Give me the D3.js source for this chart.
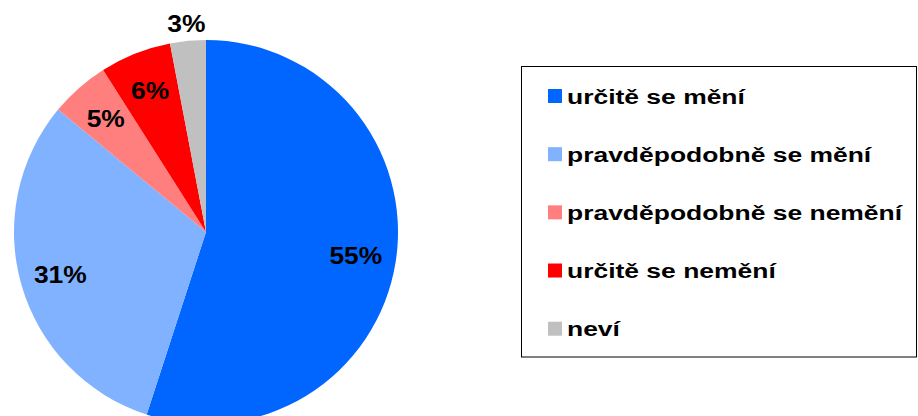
<!DOCTYPE html>
<html>
<head>
<meta charset="utf-8">
<script src="https://cdn.jsdelivr.net/npm/d3@7"></script>
<style>
  body { margin: 0; background: #fff; }
  svg text { font-family: "Liberation Sans", Arial, sans-serif; font-weight: bold; fill: #000; }
</style>
</head>
<body>
<div id="chart"></div>
<script>
// data
const categories = ["určitě se mění", "pravděpodobně se mění", "pravděpodobně se nemění", "určitě se nemění", "neví"];
const shares = [55, 31, 5, 6, 3];
const labels = ["55%", "31%", "5%", "6%", "3%"];
const colors = ["#0066ff", "#80b2ff", "#ff7f7f", "#ff0000", "#c0c0c0"];

const width = 918, height = 416;

const svg = d3.select("#chart").append("svg")
    .attr("width", width)
    .attr("height", height);

// pie
const radius = 192;
const pieG = svg.append("g")
    .attr("transform", "translate(206,232)");

const pie = d3.pie().sort(null).value(d => d)(shares);

const arc = d3.arc().innerRadius(0).outerRadius(radius);

pieG.selectAll("path.slice")
    .data(pie)
    .enter().append("path")
    .attr("class", "slice")
    .attr("d", arc)
    .attr("fill", (d, i) => colors[i]);

// labels inside, small last one outside
const inArc = d3.arc().innerRadius(radius * 0.79).outerRadius(radius * 0.79);
const outArc = d3.arc().innerRadius(radius * 1.09).outerRadius(radius * 1.09);

pieG.selectAll("text.lbl")
    .data(pie)
    .enter().append("text")
    .attr("class", "lbl")
    .attr("transform", (d, i) => {
        let c = (i === 4 ? outArc : inArc).centroid(d);
        return "translate(" + c[0] + "," + (c[1] + 8.5) + ") scale(1.1,1)";
    })
    .attr("text-anchor", "middle")
    .style("font-size", "24px")
    .text((d, i) => labels[i]);

// legend
const legend = svg.append("g");

legend.append("rect")
    .attr("x", 521.5)
    .attr("y", 66.5)
    .attr("width", 395)
    .attr("height", 290.5)
    .attr("fill", "none")
    .attr("stroke", "#000")
    .attr("stroke-width", 1);

const rowY = d3.scalePoint()
    .domain(categories)
    .range([96, 328.7]);

const rows = legend.selectAll("g.row")
    .data(categories)
    .enter().append("g")
    .attr("class", "row")
    .attr("transform", d => "translate(0," + rowY(d) + ")");

rows.append("rect")
    .attr("x", 548)
    .attr("y", -7)
    .attr("width", 14)
    .attr("height", 14)
    .attr("fill", (d, i) => colors[i]);

rows.append("text")
    .attr("transform", "translate(567,7.5) scale(1.26,1)")
    .style("font-size", "21px")
    .text(d => d);
</script>
</body>
</html>
